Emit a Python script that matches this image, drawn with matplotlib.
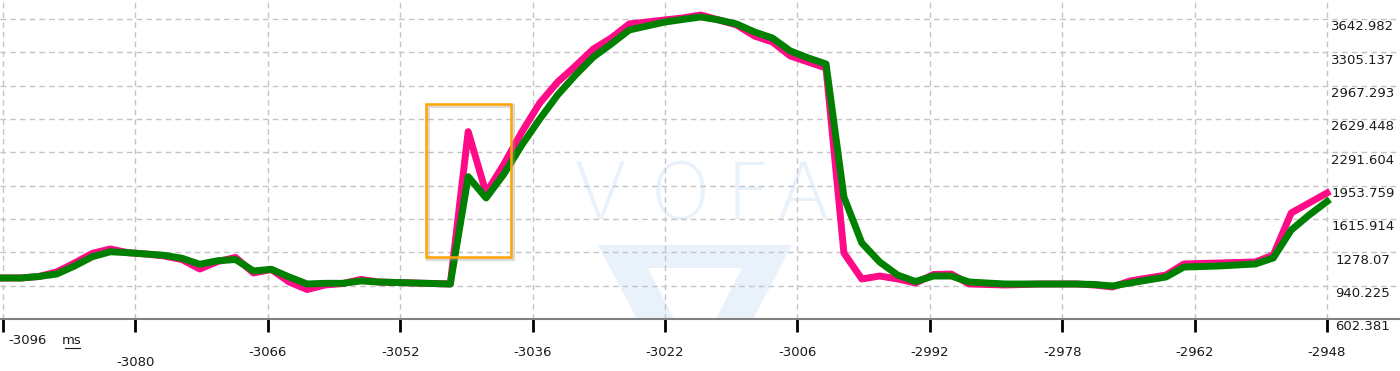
import matplotlib
matplotlib.use("Agg")
import matplotlib.pyplot as plt
import numpy as np
from matplotlib.patches import Rectangle, PathPatch
from matplotlib.path import Path
from matplotlib.transforms import offset_copy

# time axis, one sample every 2 ms
t = np.arange(-3096, -2947, 2)

# pink channel
ch_pink = [1018, 1018, 1033, 1079, 1170, 1268, 1312, 1274, 1261, 1241,
           1205, 1109, 1185, 1226, 1069, 1104, 977, 901, 947, 962,
           1003, 977, 972, 967, 962, 957, 2501, 1879, 2173, 2498,
           2791, 3004, 3167, 3339, 3450, 3592, 3612, 3633, 3653, 3683,
           3633, 3582, 3470, 3410, 3268, 3207, 3146, 1271, 1008, 1038,
           1008, 967, 1053, 1058, 957, 952, 947, 952, 957, 957,
           957, 947, 927, 988, 1018, 1048, 1160, 1165, 1170, 1175,
           1180, 1251, 1677, 1778, 1879]

# green channel
ch_green = [1018, 1018, 1033, 1058, 1140, 1234, 1284, 1274, 1261, 1248,
            1218, 1157, 1193, 1205, 1089, 1106, 1028, 957, 964, 964,
            988, 977, 972, 967, 962, 957, 2045, 1829, 2072, 2366,
            2629, 2873, 3075, 3258, 3390, 3531, 3572, 3612, 3638, 3663,
            3633, 3592, 3511, 3450, 3319, 3248, 3187, 1839, 1373, 1180,
            1048, 982, 1038, 1038, 977, 967, 957, 957, 957, 957,
            957, 952, 937, 967, 998, 1028, 1129, 1134, 1140, 1150,
            1160, 1221, 1504, 1656, 1793]

x_labels = ["-3096", "-3080", "-3066", "-3052", "-3036", "-3022",
            "-3006", "-2992", "-2978", "-2962", "-2948"]
y_ticks = [602.381, 940.225, 1278.07, 1615.914, 1953.759, 2291.604,
           2629.448, 2967.293, 3305.137, 3642.982]
y_labels = ["602.381", "940.225", "1278.07", "1615.914", "1953.759",
            "2291.604", "2629.448", "2967.293", "3305.137", "3642.982"]

W, H = 1400, 371
fig = plt.figure(figsize=(W / 100, H / 100), dpi=100)
ax = fig.add_axes([0, 52 / H, 1, 319 / H])

px_ms = 1324 / 148
ax.set_xlim(-3096 - 3 / px_ms, -2948 + 73 / px_ms)
ax.set_ylim(602.381, 3835)

for s in ["top", "left", "right"]:
    ax.spines[s].set_visible(False)
ax.spines["bottom"].set_color("#808080")
ax.spines["bottom"].set_linewidth(1.5)

x_ticks = np.linspace(-3096, -2948, len(x_labels))
ax.set_xticks(x_ticks)
ax.set_yticks(y_ticks)
ax.tick_params(axis="x", length=9, width=2, color="black",
               labelbottom=False, direction="out")
ax.tick_params(axis="y", length=0, labelleft=False)
ax.grid(True, color="#c4c4c4", linestyle=(0, (4, 3)), linewidth=1)
ax.set_axisbelow(True)

# watermark
wm = "#e9f1fb"
for letter, xp in zip("VOFA", [600, 680, 748, 803]):
    ax.text(xp / W, (319 - 197) / 319, letter, transform=ax.transAxes,
            ha="center", va="center", fontsize=56, color=wm,
            fontweight="light", zorder=0)
outer = [(598, 245), (792, 245), (695, 430), (598, 245)]
inner = [(648, 268), (695, 360), (742, 268), (648, 268)]
verts = [((x) / W, (319 - y) / 319) for x, y in outer + inner]
codes = [Path.MOVETO, Path.LINETO, Path.LINETO, Path.CLOSEPOLY] * 2
ax.add_patch(PathPatch(Path(verts, codes), transform=ax.transAxes,
                       facecolor=wm, edgecolor="none", zorder=0,
                       clip_on=True))

ax.plot(t, ch_pink, color="#ff0a87", lw=5, zorder=3)
ax.plot(t, ch_green, color="#008000", lw=5, zorder=4)

# highlight box with a soft shadow
shadow_tr = offset_copy(ax.transData, fig=fig, x=2, y=-2, units="dots")
ax.add_patch(Rectangle((-3048.7, 1230), 9.5, 1549, fill=False,
                       edgecolor="#999999", alpha=0.35, lw=3,
                       transform=shadow_tr, zorder=5))
ax.add_patch(Rectangle((-3048.7, 1230), 9.5, 1549, fill=False,
                       edgecolor="#ffa500", lw=1.8, zorder=6))

# y labels on the right
ytr = offset_copy(ax.get_yaxis_transform(), fig=fig, y=-8, units="dots")
for v, lab in zip(y_ticks, y_labels):
    ax.text(1363 / W, v, lab, transform=ytr, ha="center", va="center",
            fontsize=9.5, color="#1a1a1a", clip_on=False)

# x labels, staggered
xtr = ax.get_xaxis_transform()
for i, (v, lab) in enumerate(zip(x_ticks, x_labels)):
    if i == 0:
        ax.text(8 / W, (319 - 341) / 319, lab, transform=ax.transAxes,
                ha="left", va="center", fontsize=9.5, color="#1a1a1a")
        continue
    yp = 363 if i == 1 else 352
    ax.text(v, (319 - yp) / 319, lab, transform=xtr, ha="center",
            va="center", fontsize=9.5, color="#1a1a1a", clip_on=False)

# unit label, underlined
ax.text(72 / W, (319 - 341) / 319, "ms", transform=ax.transAxes,
        ha="center", va="center", fontsize=9.5, color="#1a1a1a")
ax.plot([65 / W, 80 / W], [(319 - 348) / 319] * 2, transform=ax.transAxes,
        color="#1a1a1a", lw=0.8, clip_on=False)

fig.savefig("out.png", dpi=100)
